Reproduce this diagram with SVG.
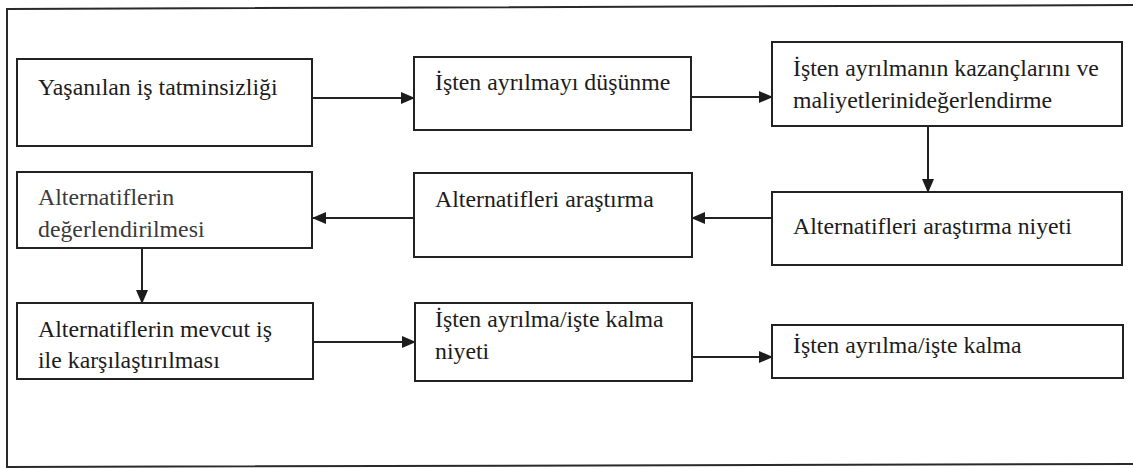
<svg xmlns="http://www.w3.org/2000/svg" width="1133" height="469" viewBox="0 0 1133 469">
  <style>
    .box { fill: #ffffff; stroke: #222222; stroke-width: 2; }
    text { font-family: 'Liberation Serif', 'Times New Roman', 'DejaVu Serif', serif; font-size: 23.8px; fill: #1c1c1c; }
    .soft { fill: #3a3a3a; }
    .conn { stroke: #222222; stroke-width: 2; fill: none; marker-end: url(#arrow); }
  </style>
  <defs>
    <marker id="arrow" markerUnits="userSpaceOnUse" markerWidth="14" markerHeight="12" refX="13" refY="6" orient="auto">
      <path d="M0,0 L14,6 L0,12 z" fill="#1c1c1c"/>
    </marker>
  </defs>

  <rect x="0" y="0" width="1133" height="469" fill="#ffffff"/>

  <!-- outer frame -->
  <polygon points="7,9 1136,5 1136,464 7,467" fill="none" stroke="#2a2a2a" stroke-width="2"/>

  <g id="connectors">
    <line class="conn" x1="312" y1="98" x2="414" y2="98"/>
    <line class="conn" x1="691" y1="97" x2="772" y2="97"/>
    <line class="conn" x1="928" y1="126" x2="928" y2="192"/>
    <line class="conn" x1="772" y1="218" x2="692" y2="218"/>
    <line class="conn" x1="414" y1="218" x2="313" y2="218"/>
    <line class="conn" x1="142" y1="248" x2="142" y2="303"/>
    <line class="conn" x1="313" y1="342" x2="415" y2="342"/>
    <line class="conn" x1="692" y1="357" x2="772" y2="357"/>
  </g>

  <g id="n1">
    <rect class="box" x="17" y="59" width="295" height="87"/>
    <text x="38" y="95">Yaşanılan iş tatminsizliği</text>
  </g>
  <g id="n2">
    <rect class="box" x="414" y="57" width="277" height="73"/>
    <text x="435" y="90">İşten ayrılmayı düşünme</text>
  </g>
  <g id="n3">
    <rect class="box" x="772" y="42" width="350" height="84"/>
    <text x="793" y="76">İşten ayrılmanın kazançlarını ve</text>
    <text x="793" y="108">maliyetlerinideğerlendirme</text>
  </g>
  <g id="n4">
    <rect class="box" x="772" y="192" width="350" height="73"/>
    <text x="793" y="234">Alternatifleri araştırma niyeti</text>
  </g>
  <g id="n5">
    <rect class="box" x="414" y="173" width="278" height="84"/>
    <text x="435" y="207">Alternatifleri araştırma</text>
  </g>
  <g id="n6">
    <rect class="box" x="17" y="172" width="295" height="76"/>
    <text class="soft" x="38" y="205">Alternatiflerin</text>
    <text class="soft" x="38" y="237">değerlendirilmesi</text>
  </g>
  <g id="n7">
    <rect class="box" x="17" y="303" width="296" height="76"/>
    <text x="38" y="337">Alternatiflerin mevcut iş</text>
    <text x="38" y="368">ile karşılaştırılması</text>
  </g>
  <g id="n8">
    <rect class="box" x="415" y="303" width="277" height="78"/>
    <text x="435" y="327">İşten ayrılma/işte kalma</text>
    <text x="435" y="359">niyeti</text>
  </g>
  <g id="n9">
    <rect class="box" x="772" y="325" width="351" height="53"/>
    <text x="793" y="353">İşten ayrılma/işte kalma</text>
  </g>
</svg>
